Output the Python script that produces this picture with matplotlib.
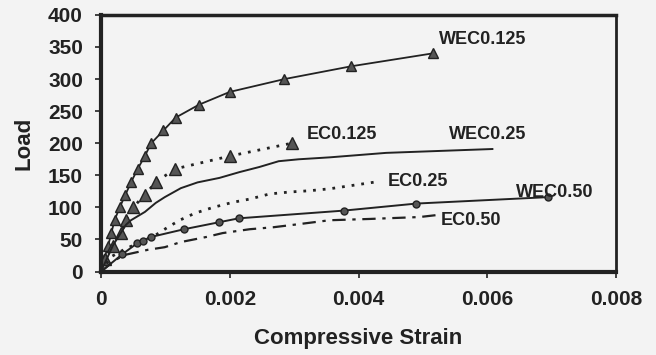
import matplotlib
matplotlib.use("Agg")
import matplotlib.pyplot as plt

plt.rcParams['font.family'] = ['Liberation Sans', 'DejaVu Sans']
plt.rcParams['font.weight'] = 'bold'

# data (strain, load)
wec0125_strain = [0, 0.00005, 0.00011, 0.00016, 0.00021, 0.00029, 0.00038, 0.00047, 0.00057,
                  0.00068, 0.00078, 0.00097, 0.00116, 0.00152, 0.0020, 0.00285, 0.00389, 0.00515]
wec0125_load = [0, 20, 40, 60, 80, 100, 120, 140, 160, 180, 200, 220, 240, 260, 280, 300, 320, 340]

ec0125_strain = [0, 0.00006, 0.00019, 0.00031, 0.00039, 0.0005, 0.00068, 0.00086, 0.00115, 0.0020, 0.00296]
ec0125_load = [0, 20, 40, 60, 80, 100, 120, 140, 160, 180, 200]

wec025_strain = [0, 0.000186, 0.000388, 0.000465, 0.000682, 0.00085, 0.00099, 0.00124, 0.0015,
                 0.00184, 0.00215, 0.00246, 0.00276, 0.00307, 0.00355, 0.00443, 0.00608]
wec025_load = [0, 41, 73, 80, 93, 107, 116, 130, 139, 146, 155, 163, 172, 175, 178, 185, 191]

ec025_strain = [0, 0.000155, 0.00037, 0.00057, 0.00085, 0.00102, 0.00122, 0.00146, 0.00174,
                0.00205, 0.00231, 0.00262, 0.00293, 0.00324, 0.00355, 0.00429]
ec025_load = [0, 23, 35, 44, 57, 68, 80, 91, 100, 108, 113, 121, 124, 126, 129, 140]

wec050_strain = [0, 0.00033, 0.00056, 0.00065, 0.00078, 0.00129, 0.00184, 0.00214, 0.00377, 0.0049, 0.00694]
wec050_load = [0, 27, 44, 48, 54, 66, 77, 83, 95, 106, 116]

ec050_strain = [0, 0.00022, 0.00037, 0.00073, 0.00099, 0.00124, 0.00164, 0.00189, 0.00231,
                0.00267, 0.00308, 0.00355, 0.00417, 0.00495, 0.00521]
ec050_load = [0, 18, 26, 34, 38, 46, 54, 60, 66, 69, 74, 80, 82, 85, 88]

labels = ["WEC0.125", "EC0.125", "WEC0.25", "EC0.25", "WEC0.50", "EC0.50"]
label_x = [0.00525, 0.00319, 0.0054, 0.00445, 0.00645, 0.00527]
label_y = [361, 213, 213, 141, 124, 79]

ink = "#222222"
fig = plt.figure(figsize=(6.56, 3.55), dpi=100)
fig.patch.set_facecolor("#f3f3f3")
ax = fig.add_axes([0.154, 0.235, 0.785, 0.723])
ax.set_facecolor("#f3f3f3")

ax.plot(wec0125_strain, wec0125_load, "-", color=ink, lw=1.3, marker="^", ms=7,
        mfc="#555555", mec=ink, markevery=list(range(1, len(wec0125_strain))))
ax.plot(ec0125_strain, ec0125_load, color=ink, lw=2, ls=(0, (1, 2.5)), marker="^", ms=8,
        mfc="#555555", mec=ink, markevery=list(range(1, len(ec0125_strain))))
ax.plot(wec025_strain, wec025_load, "-", color=ink, lw=1.4)
ax.plot(ec025_strain, ec025_load, color=ink, lw=2, ls=(0, (1, 2.5)))
ax.plot(wec050_strain, wec050_load, "-", color=ink, lw=1.4, marker="o", ms=5,
        mfc="#555555", mec=ink, markevery=list(range(1, len(wec050_strain))))
ax.plot(ec050_strain, ec050_load, color=ink, lw=1.6, ls=(0, (6, 3, 1.5, 3)))

for t, x, y in zip(labels, label_x, label_y):
    ax.text(x, y, t, fontsize=13, fontweight="bold", color=ink, ha="left", va="center")

ax.set_xlim(0, 0.008)
ax.set_ylim(0, 400)
ax.set_xticks([0, 0.002, 0.004, 0.006, 0.008])
ax.set_xticklabels(["0", "0.002", "0.004", "0.006", "0.008"])
ax.set_yticks(range(0, 401, 50))
ax.tick_params(direction="out", length=4, width=1.2, pad=9, labelsize=15, colors=ink)
for lab in ax.get_xticklabels() + ax.get_yticklabels():
    lab.set_fontweight("bold")

ax.spines["left"].set_linewidth(3)
ax.spines["bottom"].set_linewidth(3)
ax.spines["top"].set_linewidth(2.5)
ax.spines["right"].set_linewidth(2)
for s in ax.spines.values():
    s.set_color(ink)

ax.set_xlabel("Compressive Strain", fontsize=16, fontweight="bold", color=ink, labelpad=14)
ax.set_ylabel("Load", fontsize=16, fontweight="bold", color=ink, labelpad=10)

fig.savefig("out.png", dpi=100, facecolor=fig.get_facecolor())
